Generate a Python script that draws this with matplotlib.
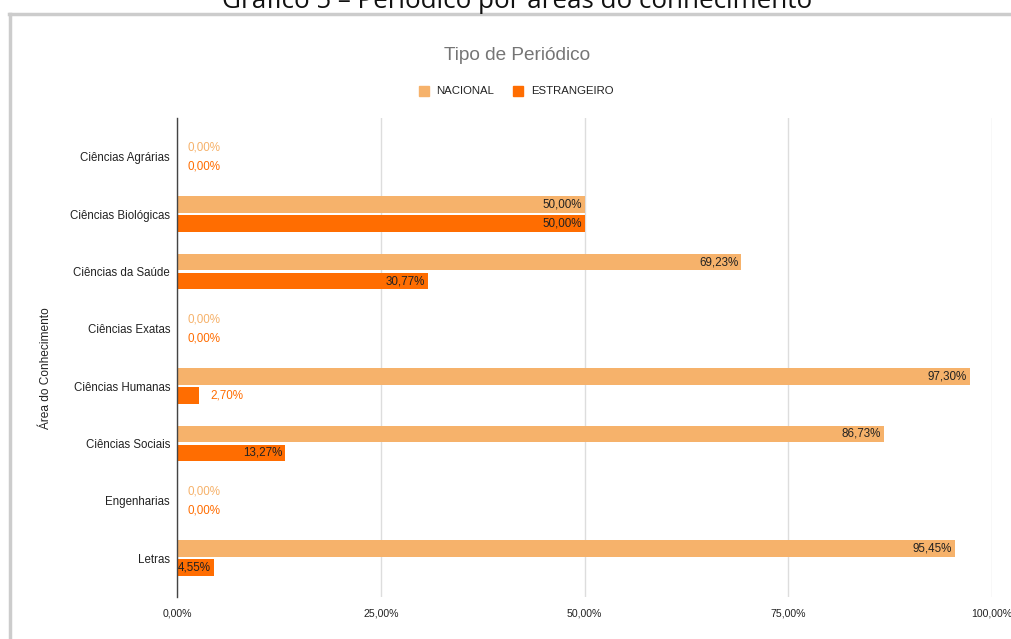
import numpy as np
import matplotlib
matplotlib.use("Agg")
from matplotlib import pyplot as plt
from matplotlib.lines import Line2D
from matplotlib.patches import Rectangle

plt.rcParams['font.family'] = ['Liberation Sans', 'DejaVu Sans']

# data
categories = ['Ciências Agrárias', 'Ciências Biológicas', 'Ciências da Saúde',
              'Ciências Exatas', 'Ciências Humanas', 'Ciências Sociais',
              'Engenharias', 'Letras']
nacional = [0.00, 50.00, 69.23, 0.00, 97.30, 86.73, 0.00, 95.45]
estrangeiro = [0.00, 50.00, 30.77, 0.00, 2.70, 13.27, 0.00, 4.55]
series_names = ['NACIONAL', 'ESTRANGEIRO']
x_ticks = [0, 25, 50, 75, 100]

c_nac = '#f6b26b'
c_est = '#ff6d01'

W, H = 1011, 639
fig = plt.figure(figsize=(W / 100, H / 100), dpi=100)

def fx(px):
    return px / W

def fy(py):
    return 1 - py / H

ax = fig.add_axes([fx(177), fy(597), fx(992) - fx(177), fy(118) - fy(597)])

y = np.arange(len(categories))
off, bh = 0.165, 0.29
ax.barh(y - off, nacional, height=bh, color=c_nac, zorder=3)
ax.barh(y + off, estrangeiro, height=bh, color=c_est, zorder=3)

ax.set_xlim(0, 100)
ax.set_ylim(7.68, -0.68)


def fmt(v):
    return f"{v:.2f}".replace('.', ',') + '%'


def label_bars(vals, ys, color):
    for v, yy in zip(vals, ys):
        bar_px = v / 100 * (992 - 177)
        if bar_px > 36:
            ax.annotate(fmt(v), (v, yy), xytext=(-3, 0), textcoords='offset pixels',
                        ha='right', va='center', fontsize=8.4, color='#222222', zorder=4)
        else:
            ax.annotate(fmt(v), (v, yy), xytext=(11, 0), textcoords='offset pixels',
                        ha='left', va='center', fontsize=8.4, color=color, zorder=4)


label_bars(nacional, y - off, c_nac)
label_bars(estrangeiro, y + off, c_est)

ax.set_yticks(y)
ax.set_yticklabels(categories, fontsize=8.3, color='#222222')
ax.set_xticks(x_ticks)
ax.set_xticklabels([fmt(t) for t in x_ticks], fontsize=7.6, color='#222222')
ax.tick_params(axis='both', length=0)
ax.tick_params(axis='y', pad=5)
ax.tick_params(axis='x', pad=8)

ax.grid(axis='x', color='#dddddd', linewidth=1, zorder=0)
for s in ['top', 'right', 'bottom']:
    ax.spines[s].set_visible(False)
ax.spines['left'].set_color('#444444')
ax.spines['left'].set_linewidth(1)
ax.spines['left'].set_zorder(5)

# axis title
fig.text(fx(46), fy(368), 'Área do Conhecimento', rotation=90, ha='center', va='center',
         fontsize=8.6, color='#222222')

# chart title
fig.text(fx(517), fy(55), 'Tipo de Periódico', ha='center', va='center',
         fontsize=13.7, color='#757575')

# legend drawn by hand
for name, col, sx, tx in [(series_names[0], c_nac, 419, 436), (series_names[1], c_est, 513, 531)]:
    fig.add_artist(Rectangle((fx(sx), fy(96)), fx(10), fy(86) - fy(96),
                             transform=fig.transFigure, color=col))
    fig.text(fx(tx), fy(91), name, ha='left', va='center', fontsize=8.2, color='#222222')

# frame of the screenshot
fig.add_artist(Line2D([fx(9.5), fx(9.5)], [0, fy(14)], transform=fig.transFigure,
                      color='#cccccc', lw=2.5))
fig.add_artist(Line2D([fx(8.5), 1], [fy(14), fy(14)], transform=fig.transFigure,
                      color='#cccccc', lw=2.5))

# document caption, cut off at the top edge as in the reference
fig.text(fx(517), fy(8), 'Gráfico 5 – Periódico por áreas do conhecimento', ha='center',
         va='baseline', fontsize=18.7, color='#111111', family=['Open Sans', 'DejaVu Sans'])

fig.savefig('out.png', dpi=100)
